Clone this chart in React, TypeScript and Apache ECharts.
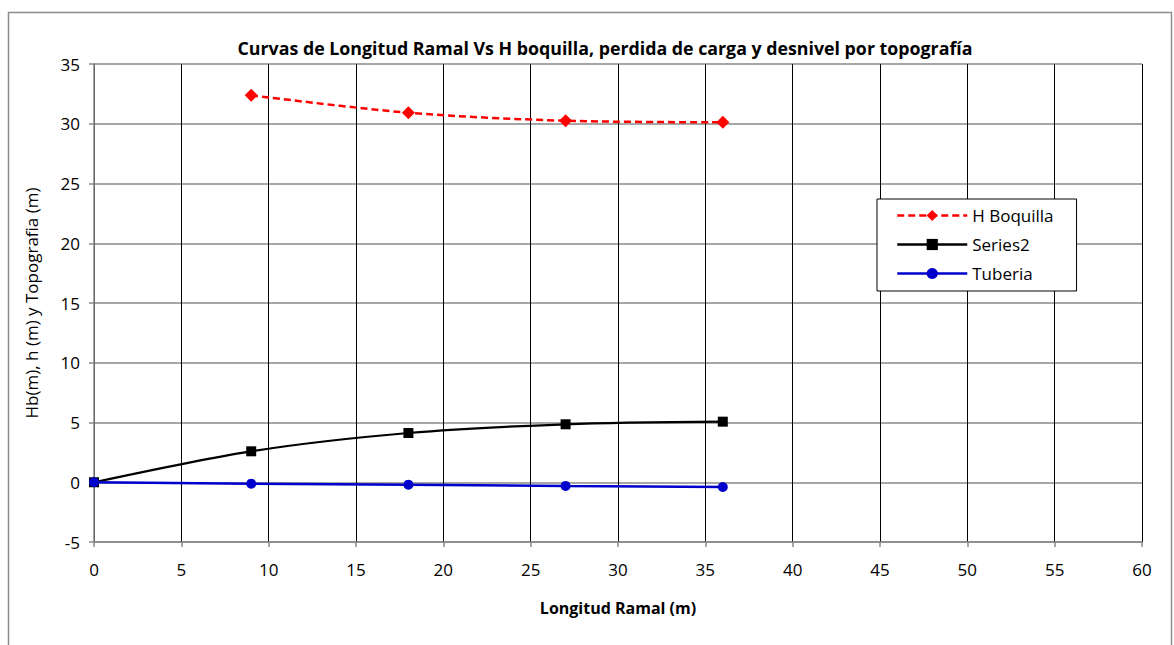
import React, { useEffect, useRef } from "react";
import * as echarts from "echarts";

const xValues = [0, 9, 18, 27, 36];
const hBoquilla: (number | null)[] = [null, 32.38, 30.92, 30.25, 30.12];
const series2 = [0, 2.59, 4.12, 4.85, 5.07];
const tuberia = [0, -0.12, -0.2, -0.31, -0.4];

const titleText = "Curvas de Longitud Ramal Vs H boquilla, perdida de carga y desnivel por topografía";
const xTitle = "Longitud Ramal (m)";
const yTitle = "Hb(m), h (m) y Topografia (m)";

const FONT = "'Open Sans', 'Noto Sans', sans-serif";

function pairs(vals: (number | null)[]) {
  const out: number[][] = [];
  xValues.forEach((x, i) => {
    const v = vals[i];
    if (v !== null && v !== undefined) out.push([x, v]);
  });
  return out;
}

export default function App() {
  const ref = useRef<HTMLDivElement>(null);
  useEffect(() => {
    if (!ref.current) return;
    const chart = echarts.init(ref.current, undefined, { renderer: "svg" });
    chart.setOption({
      animation: false,
      backgroundColor: "#fff",
      textStyle: { fontFamily: FONT },
      title: {
        text: titleText,
        left: 600,
        top: 34,
        textAlign: "center",
        textStyle: { fontSize: 17.8, fontWeight: "bold", color: "#000", fontFamily: FONT },
      },
      graphic: [
        {
          type: "rect",
          shape: { x: 8.5, y: 12.5, width: 1163, height: 700 },
          style: { fill: "none", stroke: "#8c8c8c", lineWidth: 1.5 },
          silent: true,
        },
      ],
      grid: { left: 94, right: 32, top: 64, bottom: 103 },
      legend: {
        orient: "vertical",
        left: 877,
        top: 199,
        padding: [8, 23, 9, 19],
        itemGap: 12,
        itemWidth: 70,
        itemHeight: 14,
        borderColor: "#000",
        borderWidth: 1,
        backgroundColor: "#fff",
        lineStyle: { width: 2.5 },
        textStyle: { fontSize: 17, color: "#000", fontFamily: FONT },
        data: ["H Boquilla", "Series2", "Tuberia"],
      },
      xAxis: {
        type: "value",
        min: 0,
        max: 60,
        interval: 5,
        name: xTitle,
        nameLocation: "middle",
        nameGap: 58,
        nameTextStyle: { fontSize: 16, fontWeight: "bold", color: "#000", fontFamily: FONT },
        axisLine: { show: true, onZero: false, lineStyle: { color: "#888", width: 1.5 } },
        axisTick: { show: true, length: 5, lineStyle: { color: "#888", width: 1.5 } },
        axisLabel: { fontSize: 17, color: "#000", margin: 19, fontFamily: FONT },
        splitLine: { show: true, lineStyle: { color: "#000", width: 1 } },
      },
      yAxis: {
        type: "value",
        min: -5,
        max: 35,
        interval: 5,
        name: yTitle,
        nameLocation: "middle",
        nameGap: 54,
        nameRotate: 90,
        nameTextStyle: { fontSize: 17, color: "#000", fontFamily: FONT },
        axisLine: { show: true, onZero: false, lineStyle: { color: "#888", width: 1.5 } },
        axisTick: { show: true, length: 5, lineStyle: { color: "#888", width: 1.5 } },
        axisLabel: { fontSize: 17, color: "#000", margin: 14, fontFamily: FONT },
        splitLine: { show: true, lineStyle: { color: "#888", width: 1.5 } },
      },
      series: [
        {
          name: "H Boquilla",
          type: "line",
          data: pairs(hBoquilla),
          smooth: 0.3,
          symbol: "diamond",
          symbolSize: 13,
          lineStyle: { color: "#ff0000", width: 2.5, type: [7, 4] },
          itemStyle: { color: "#ff0000" },
          z: 5,
        },
        {
          name: "Series2",
          type: "line",
          data: pairs(series2),
          smooth: 0.3,
          symbol: "rect",
          symbolSize: 10,
          lineStyle: { color: "#000", width: 2.2 },
          itemStyle: { color: "#000" },
          z: 4,
        },
        {
          name: "Tuberia",
          type: "line",
          data: pairs(tuberia),
          symbol: "circle",
          symbolSize: 10,
          lineStyle: { color: "#0000cc", width: 2.5 },
          itemStyle: { color: "#0000cc" },
          z: 6,
        },
      ],
    });
    return () => chart.dispose();
  }, []);
  return (
    <div
      ref={ref}
      style={{ position: "absolute", left: 0, top: 0, width: 1174, height: 645 }}
    />
  );
}
